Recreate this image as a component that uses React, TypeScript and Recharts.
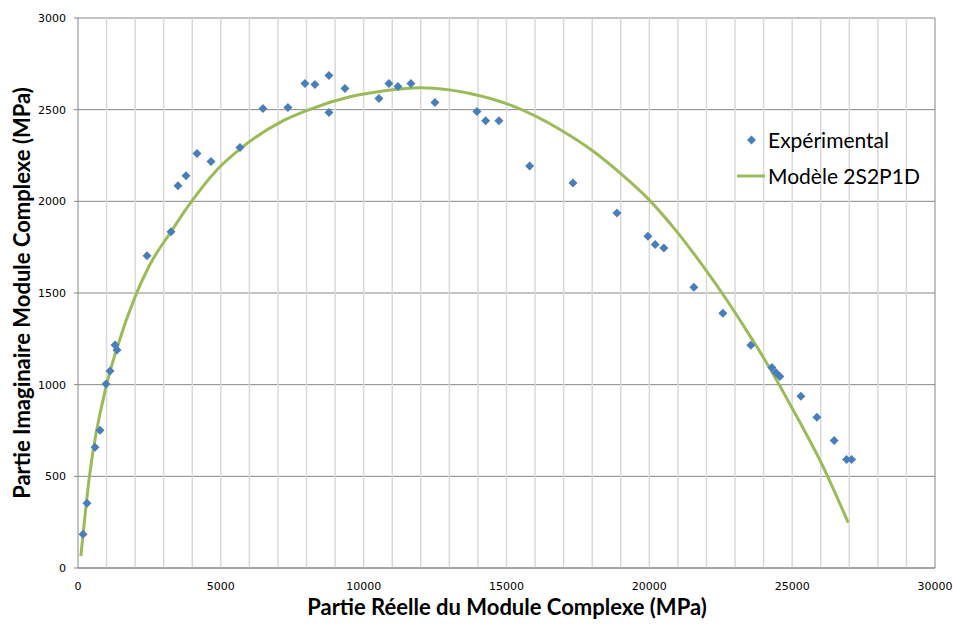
import React from 'react';
import {
  ScatterChart,
  Scatter,
  XAxis,
  YAxis,
  CartesianGrid,
  ReferenceLine,
} from 'recharts';

// Experimental points (real part, imaginary part), MPa
const EXP_RE = [
  175, 315, 595, 770, 980, 1120, 1295, 1365, 2415, 3255, 3500, 3780, 4165, 4655,
  5670, 6475, 7350, 7945, 8295, 8785, 8785, 9345, 10535, 10885, 11200, 11655,
  12495, 13965, 14270, 14735, 15810, 17325, 18865, 19950, 20205, 20510, 21560,
  22575, 23555, 24290, 24430, 24570, 25305, 25865, 26470, 26905, 27080,
];
const EXP_IM = [
  184, 353, 659, 751, 1003, 1074, 1216, 1189, 1703, 1834, 2085, 2140, 2261, 2217,
  2293, 2506, 2512, 2643, 2637, 2687, 2485, 2616, 2561, 2643, 2627, 2643,
  2539, 2490, 2439, 2439, 2193, 2100, 1937, 1809, 1765, 1745, 1532,
  1390, 1215, 1093, 1066, 1044, 937, 822, 696, 592, 592,
];

// 2S2P1D model curve
const MODEL_RE = [
  100, 400, 1000, 1365, 2000, 2500, 3255, 3862, 4853, 5787, 7187, 8000, 9520,
  10800, 11970, 13000, 13720, 15235, 16870, 18037, 18970, 20020, 20955, 21887,
  22705, 23405, 23987, 25035, 26085, 26960,
];
const MODEL_IM = [
  65, 500, 1000, 1200, 1480, 1650, 1834, 1975, 2170, 2300, 2440, 2495, 2570,
  2605, 2620, 2608, 2588, 2519, 2392, 2273, 2155, 2004, 1836, 1645,
  1463, 1295, 1150, 862, 552, 248,
];

const X_TICKS = [0, 5000, 10000, 15000, 20000, 25000, 30000];
const Y_TICKS = [0, 500, 1000, 1500, 2000, 2500, 3000];
const X_MINOR = [
  1000, 2000, 3000, 4000, 5000, 6000, 7000, 8000, 9000, 10000, 11000, 12000, 13000,
  14000, 15000, 16000, 17000, 18000, 19000, 20000, 21000, 22000, 23000, 24000,
  25000, 26000, 27000, 28000, 29000,
];

const expData = EXP_RE.map((x, i) => ({ x, y: EXP_IM[i] }));
const modelData = MODEL_RE.map((x, i) => ({ x, y: MODEL_IM[i] }));

const BLUE = '#4a7ebb';
const GREEN = '#9bbb59';
const FONT = 'Lato, "Open Sans", sans-serif';

const Diamond = (props: any) => {
  const { cx, cy } = props;
  if (cx == null || cy == null) return <g />;
  const r = 4.5;
  return (
    <path
      d={`M${cx},${cy - r}L${cx + r},${cy}L${cx},${cy + r}L${cx - r},${cy}Z`}
      fill={BLUE}
    />
  );
};

const NoShape = () => <g />;

export default function App() {
  return (
    <div style={{ position: 'absolute', left: 0, top: 0, width: 953, height: 624, background: '#fff' }}>
      <ScatterChart
        width={953}
        height={624}
        margin={{ top: 18, right: 18, bottom: 0, left: 0 }}
      >
        <CartesianGrid vertical={false} stroke="#868686" strokeWidth={1} />
        {X_MINOR.map((v) => (
          <ReferenceLine key={v} x={v} stroke="#d9d9d9" strokeWidth={1.5} />
        ))}
        <ReferenceLine x={30000} stroke="#868686" strokeWidth={1} />
        <XAxis
          type="number"
          dataKey="x"
          domain={[0, 30000]}
          ticks={X_TICKS}
          interval={0}
          height={56}
          axisLine={{ stroke: '#868686' }}
          tickLine={false}
          tick={{ fill: '#000', fontSize: 11, fontFamily: '"DejaVu Sans", sans-serif' }}
          tickMargin={8}
        />
        <YAxis
          type="number"
          dataKey="y"
          domain={[0, 3000]}
          ticks={Y_TICKS}
          interval={0}
          width={78}
          axisLine={{ stroke: '#868686' }}
          tickLine={{ stroke: '#868686' }}
          tickSize={4}
          tickMargin={8}
          tick={{ fill: '#000', fontSize: 11, fontFamily: '"DejaVu Sans", sans-serif' }}
        />
        <Scatter
          name="Modèle 2S2P1D"
          data={modelData}
          line={{ stroke: GREEN, strokeWidth: 3 }}
          lineJointType="monotoneX"
          shape={NoShape}
          isAnimationActive={false}
        />
        <Scatter
          name="Expérimental"
          data={expData}
          shape={Diamond}
          isAnimationActive={false}
        />
      </ScatterChart>

      {/* legend */}
      <div
        style={{
          position: 'absolute',
          left: 737,
          top: 122,
          fontFamily: FONT,
          fontSize: 21,
          color: '#000',
          lineHeight: '36px',
          whiteSpace: 'nowrap',
        }}
      >
        <div style={{ display: 'flex', alignItems: 'center', height: 36 }}>
          <svg width={31} height={12}>
            <path d="M14.5,1.5L19,6L14.5,10.5L10,6Z" fill={BLUE} />
          </svg>
          <span>Expérimental</span>
        </div>
        <div style={{ display: 'flex', alignItems: 'center', height: 36 }}>
          <svg width={31} height={12}>
            <line x1={0} y1={6} x2={28} y2={6} stroke={GREEN} strokeWidth={3} />
          </svg>
          <span>Modèle 2S2P1D</span>
        </div>
      </div>

      <div
        style={{
          position: 'absolute',
          left: 0,
          top: 594,
          width: 1014,
          textAlign: 'center',
          fontFamily: FONT,
          fontWeight: 'bold',
          fontSize: 22,
          color: '#000',
          lineHeight: '26px',
        }}
      >
        Partie Réelle du Module Complexe (MPa)
      </div>
      <div
        style={{
          position: 'absolute',
          left: 22,
          top: 293,
          transform: 'translate(-50%, -50%) rotate(-90deg)',
          whiteSpace: 'nowrap',
          fontFamily: FONT,
          fontWeight: 'bold',
          fontSize: 22,
          color: '#000',
          lineHeight: '26px',
        }}
      >
        Partie Imaginaire Module Complexe (MPa)
      </div>
    </div>
  );
}
